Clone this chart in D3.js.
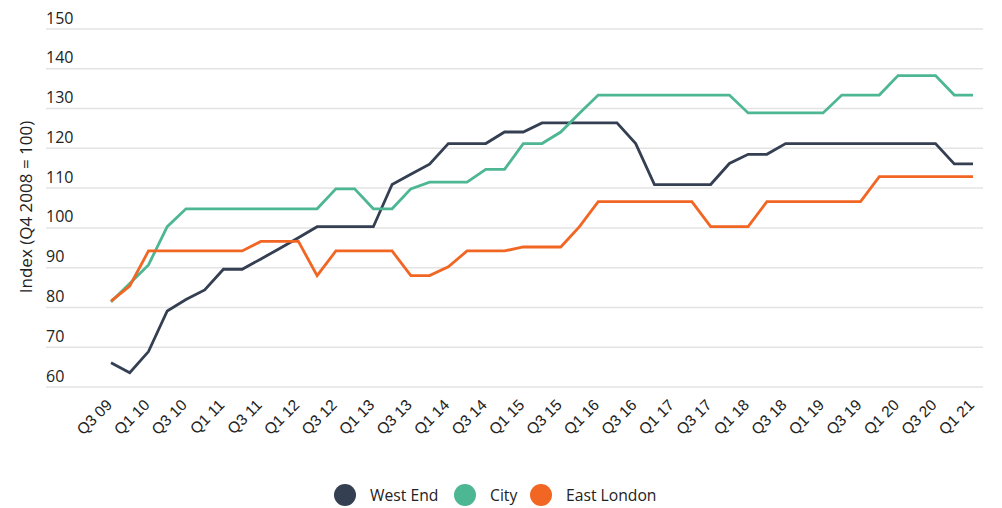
<!DOCTYPE html>
<html>
<head>
<meta charset="utf-8">
<script src="https://cdn.jsdelivr.net/npm/d3@7"></script>
<style>
  body { margin: 0; background: #fff; }
  #canvas { width: 1002px; height: 508px; }
</style>
</head>
<body>
<div id="canvas"></div>
<script>
const canvas = d3.select("#canvas");

// quarters Q3 09 .. Q1 21
const quarters = [];
for (let yr = 9; yr <= 21; yr++) {
  for (let q = 1; q <= 4; q++) {
    if (yr === 9 && q < 3) continue;
    if (yr === 21 && q > 1) continue;
    quarters.push("Q" + q + " " + String(yr).padStart(2, "0"));
  }
}

const westEnd = [66.1, 63.6, 68.9, 79.1, 82.0, 84.4, 89.6, 89.6, 92.2, 94.8, 97.5, 100.3,
  100.3, 100.3, 100.3, 110.9, 113.5, 116.0, 121.2, 121.2, 121.2, 124.1, 124.1, 126.4,
  126.4, 126.4, 126.4, 126.4, 121.2, 110.9, 110.9, 110.9, 110.9, 116.2, 118.5, 118.5,
  121.2, 121.2, 121.2, 121.2, 121.2, 121.2, 121.2, 121.2, 121.2, 116.1, 116.1];
const city = [81.4, 86.0, 90.7, 100.3, 104.8, 104.8, 104.8, 104.8, 104.8, 104.8, 104.8, 104.8,
  109.8, 109.8, 104.8, 104.8, 109.8, 111.5, 111.5, 111.5, 114.7, 114.7, 121.2, 121.2,
  124.1, 128.8, 133.4, 133.4, 133.4, 133.4, 133.4, 133.4, 133.4, 133.4, 128.9, 128.9,
  128.9, 128.9, 128.9, 133.4, 133.4, 133.4, 138.3, 138.3, 138.3, 133.4, 133.4];
const eastLondon = [81.6, 85.4, 94.2, 94.2, 94.2, 94.2, 94.2, 94.2, 96.6, 96.6, 96.6, 88.0,
  94.2, 94.2, 94.2, 94.2, 88.0, 88.0, 90.2, 94.2, 94.2, 94.2, 95.2, 95.2,
  95.2, 100.3, 106.6, 106.6, 106.6, 106.6, 106.6, 106.6, 100.3, 100.3, 100.3, 106.6,
  106.6, 106.6, 106.6, 106.6, 106.6, 112.9, 112.9, 112.9, 112.9, 112.9, 112.9];

const seriesNames = ["West End", "City", "East London"];
const seriesColors = ["#343f52", "#4db693", "#f26624"];
const yTicks = [60, 70, 80, 90, 100, 110, 120, 130, 140, 150];

const width = 1002;
const height = 508;

const svg = canvas.append("svg")
  .attr("width", width)
  .attr("height", height);

const x = d3.scalePoint()
  .domain(quarters)
  .range([111, 973]);

const y = d3.scaleLinear()
  .domain([60, 150])
  .range([387, 29]);

// gridlines + y labels (labels sit above the lines)
const grid = svg.append("g").attr("class", "grid");
grid.selectAll("line").data(yTicks).enter().append("line")
  .attr("x1", 46).attr("x2", 983)
  .attr("y1", d => y(d)).attr("y2", d => y(d))
  .attr("stroke", "#e3e3e3")
  .attr("stroke-width", 1.5);
grid.selectAll("text").data(yTicks).enter().append("text")
  .attr("x", 46)
  .attr("y", d => y(d) - 5.5)
  .attr("font-family", "'Open Sans', sans-serif")
  .attr("font-size", 16)
  .attr("fill", "#222")
  .text(d => d);

svg.append("text")
  .attr("transform", "translate(32,207) rotate(-90)")
  .attr("text-anchor", "middle")
  .attr("font-family", "'Open Sans', sans-serif")
  .attr("font-size", 17)
  .attr("fill", "#222")
  .text("Index (Q4 2008 = 100)");

// x labels every second quarter
const xAxis = svg.append("g").attr("class", "x--axis");
xAxis.selectAll("text")
  .data(quarters.filter((d, i) => i % 2 === 0))
  .enter().append("text")
  .attr("transform", d => `translate(${x(d) + 2},406) rotate(-45)`)
  .attr("text-anchor", "end")
  .attr("font-family", "'Liberation Sans', Arial, sans-serif")
  .attr("font-size", 15.5)
  .attr("fill", "#222")
  .text(d => d);

const line = d3.line()
  .x((d, i) => x(quarters[i]))
  .y(d => y(d));

[westEnd, city, eastLondon].forEach((vals, k) => {
  svg.append("path")
    .datum(vals)
    .attr("fill", "none")
    .attr("stroke", seriesColors[k])
    .attr("stroke-width", 2.8)
    .attr("stroke-linejoin", "miter")
    .attr("d", line);
});

// legend
const legendX = [345, 465, 541];
const legend = svg.append("g").attr("class", "legend");
seriesNames.forEach((name, k) => {
  legend.append("circle")
    .attr("cx", legendX[k])
    .attr("cy", 495)
    .attr("r", 11)
    .attr("fill", seriesColors[k]);
  legend.append("text")
    .attr("x", legendX[k] + 25)
    .attr("y", 500.5)
    .attr("font-family", "'Open Sans', sans-serif")
    .attr("font-size", 15.7)
    .attr("fill", "#222")
    .text(name);
});
</script>
</body>
</html>
